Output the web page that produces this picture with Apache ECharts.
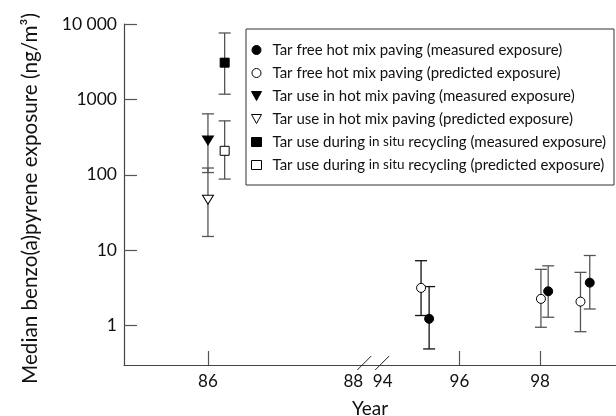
<!DOCTYPE html>
<html>
<head>
<meta charset="utf-8">
<script src="https://cdn.jsdelivr.net/npm/echarts@6/dist/echarts.min.js"></script>
<style>html,body{margin:0;padding:0;background:#fff}#c{width:616px;height:416px}</style>
</head>
<body>
<div id="c"></div>
<script>
// ---- data ----
const seriesNames = [
  'Tar free hot mix paving (measured exposure)',
  'Tar free hot mix paving (predicted exposure)',
  'Tar use in hot mix paving (measured exposure)',
  'Tar use in hot mix paving (predicted exposure)',
  'Tar use during in situ recycling (measured exposure)',
  'Tar use during in situ recycling (predicted exposure)'
];
// year of each point (slightly offset within a year, as plotted)
const seriesYears = [[95.25, 98.2, 99.23], [95.05, 98.02, 99.0], [86.0], [86.0], [86.23], [86.23]];
const seriesMedian = [[1.23, 2.85, 3.71], [3.16, 2.26, 2.08], [285], [46.7], [3070], [208]];
const seriesLow = [[0.49, 1.29, 1.66], [1.36, 0.95, 0.83], [107], [15.2], [1172], [87.7]];
const seriesHigh = [[3.29, 6.2, 8.5], [7.25, 5.57, 5.08], [643], [123], [7600], [519]];
const xTickYears = [86, 96, 98];
const xLabelYears = [86, 88, 94, 96, 98];
const yTickValues = [1, 10, 100, 1000, 10000];

// broken x axis: years before the break are drawn on a compressed segment
function xPos(year) { return year < 91 ? 89.77 + (year - 86) * 1.8 : year; }

const FONT = 'Lato';
const DOWN_TRI = 'path://M0,0 L10,0 L5,9 Z';
const symbols = ['circle', 'circle', DOWN_TRI, DOWN_TRI, 'rect', 'rect'];
const filled = [true, false, true, false, true, false];
const sizes = [9, 9, [11, 9], [11, 9], 9, 9];

function styleFor(i) {
  return filled[i]
    ? { color: '#000', borderColor: '#000', borderWidth: 1, opacity: 1 }
    : { color: '#fff', borderColor: '#000', borderWidth: 1, opacity: 1 };
}

const scatterSeries = seriesNames.map((name, i) => ({
  type: 'scatter',
  name: name,
  symbol: symbols[i],
  symbolSize: sizes[i],
  z: 3,
  itemStyle: styleFor(i),
  data: seriesYears[i].map((y, j) => [xPos(y), seriesMedian[i][j]])
}));

const errData = [];
seriesNames.forEach((n, i) => {
  seriesYears[i].forEach((y, j) => {
    errData.push([xPos(y), seriesLow[i][j], seriesHigh[i][j], y]);
  });
});

const errorSeries = {
  type: 'custom',
  name: 'err',
  z: 1,
  silent: true,
  renderItem: function (params, api) {
    const x = api.value(0);
    const lo = api.coord([x, api.value(1)]);
    const hi = api.coord([x, api.value(2)]);
    const yr = api.value(3);
    const col = (yr > 94.5 && yr < 96) ? '#111' : '#555';
    const w = 6;
    const st = { stroke: col, lineWidth: 1.3, fill: null };
    return {
      type: 'group',
      children: [
        { type: 'line', shape: { x1: lo[0], y1: lo[1], x2: hi[0], y2: hi[1] }, style: st },
        { type: 'line', shape: { x1: lo[0] - w, y1: lo[1], x2: lo[0] + w, y2: lo[1] }, style: st },
        { type: 'line', shape: { x1: hi[0] - w, y1: hi[1], x2: hi[0] + w, y2: hi[1] }, style: st }
      ]
    };
  },
  data: errData
};

function labelForX(v) {
  let best = null, bd = 1e9;
  xLabelYears.forEach(y => { const d = Math.abs(xPos(y) - v); if (d < bd) { bd = d; best = y; } });
  return best;
}

const chart = echarts.init(document.getElementById('c'), null, { renderer: 'canvas' });
const option = {
  animation: false,
  backgroundColor: '#fff',
  textStyle: { fontFamily: FONT },
  grid: { left: 124, right: 0, top: 24, bottom: 51, containLabel: false, outerBoundsMode: 'none' },
  xAxis: {
    type: 'value',
    min: 87.69,
    max: 99.88,
    name: 'Year',
    nameLocation: 'middle',
    nameGap: 34,
    nameTextStyle: { fontFamily: FONT, fontSize: 19, color: '#111' },
    splitLine: { show: false },
    axisLine: { show: true, onZero: false, lineStyle: { color: '#444', width: 1.2 } },
    axisTick: { show: true, inside: true, length: 14, customValues: xTickYears.map(xPos), lineStyle: { color: '#555', width: 1.2 } },
    axisLabel: {
      customValues: xLabelYears.map(xPos),
      margin: 8,
      fontFamily: FONT, fontSize: 17, color: '#111',
      formatter: function (v) {
        const y = labelForX(v);
        return y === 94 ? '{p|' + y + '}' : String(y);
      },
      rich: { p: { fontFamily: FONT, fontSize: 17, color: '#111', padding: [0, 0, 0, 8] } }
    }
  },
  yAxis: {
    type: 'log',
    logBase: 10,
    min: 0.3,
    max: 10000,
    name: 'Median benzo(a)pyrene exposure (ng/m³)',
    nameLocation: 'middle',
    nameGap: 83,
    nameTextStyle: { fontFamily: FONT, fontSize: 20.7, color: '#111', padding: [0, 8, 0, 0] },
    splitLine: { show: false },
    axisLine: { show: true, onZero: false, lineStyle: { color: '#444', width: 1.2 } },
    axisTick: { show: true, inside: true, length: 13, customValues: yTickValues, lineStyle: { color: '#555', width: 1.2 } },
    axisLabel: {
      customValues: yTickValues,
      margin: 7,
      fontFamily: FONT, fontSize: 17.5, color: '#111',
      formatter: function (v) { return v >= 10000 ? '10 000' : String(Math.round(v)); }
    }
  },
  legend: {
    orient: 'vertical',
    left: 246,
    top: 29,
    padding: [13, 8, 12, 5],
    itemGap: 7,
    itemWidth: 10,
    itemHeight: 9,
    borderColor: '#333',
    borderWidth: 1,
    data: seriesNames.map((n, i) => ({ name: n, icon: symbols[i], itemStyle: styleFor(i) })),
    textStyle: {
      fontFamily: FONT, fontSize: 15, color: '#111', lineHeight: 16, padding: [0, 0, 0, 6],
      rich: { s: { fontFamily: FONT, fontSize: 13.5, color: '#111' } }
    },
    formatter: function (n) { return n.replace('in situ', '{s|in situ}'); }
  },
  series: [errorSeries].concat(scatterSeries)
};
chart.setOption(option);

// axis break marks
const p88 = chart.convertToPixel({ xAxisIndex: 0 }, xPos(88));
const p94 = chart.convertToPixel({ xAxisIndex: 0 }, xPos(94));
const yAx = chart.convertToPixel({ yAxisIndex: 0 }, 0.3);
const c1 = p88 + 11, c2 = p94 + 3.5;
chart.setOption({
  graphic: [
    { type: 'line', z: 100, shape: { x1: c1 - 7, y1: yAx + 5, x2: c1 + 7, y2: yAx - 9 }, style: { stroke: '#222', lineWidth: 1 } },
    { type: 'line', z: 100, shape: { x1: c2 - 7, y1: yAx + 5, x2: c2 + 7, y2: yAx - 9 }, style: { stroke: '#222', lineWidth: 1 } }
  ]
});
</script>
</body>
</html>
